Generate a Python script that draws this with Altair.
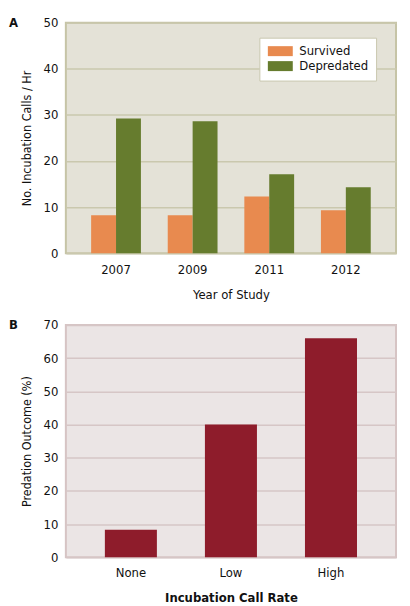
import pandas as pd
import altair as alt

years = ["2007", "2009", "2011", "2012"]
survived = [8.2, 8.2, 12.3, 9.3]
depredated = [29.2, 28.6, 17.1, 14.3]

rates = ["None", "Low", "High"]
predation = [8.3, 40.0, 66.0]

font = "Liberation Sans Narrow, DejaVu Sans Condensed, Arial Narrow, sans-serif"

df_a = pd.DataFrame({
    "year": years * 2,
    "group": ["Survived"] * 4 + ["Depredated"] * 4,
    "calls": survived + depredated,
})
df_b = pd.DataFrame({"rate": rates, "pct": predation})


def axis_y(title, grid):
    return alt.Axis(title=title, values=list(range(0, 80, 10)), grid=True, gridColor=grid,
                    gridWidth=1.5, domain=False, ticks=False, labelPadding=8,
                    labelFontSize=13, titleFontSize=12.5, titleFontWeight="normal",
                    titlePadding=10, labelColor="#111", titleColor="#111")


bars_a = alt.Chart(df_a).mark_bar().encode(
    x=alt.X("year:N", sort=years,
            scale=alt.Scale(paddingInner=0.35, paddingOuter=0.33),
            axis=alt.Axis(title="Year of Study", labelAngle=0, domain=False, ticks=False,
                          labelPadding=10, titlePadding=12, labelFontSize=13,
                          titleFontSize=13, titleFontWeight="normal",
                          labelColor="#111", titleColor="#111")),
    xOffset=alt.XOffset("group:N", sort=["Survived", "Depredated"],
                        scale=alt.Scale(paddingInner=0, paddingOuter=0)),
    y=alt.Y("calls:Q", scale=alt.Scale(domain=[0, 50], nice=False),
            axis=axis_y("No. Incubation Calls / Hr", "#cac8ae")),
    color=alt.Color("group:N", sort=["Survived", "Depredated"],
                    scale=alt.Scale(domain=["Survived", "Depredated"],
                                    range=["#e88a4f", "#667c2e"]),
                    legend=alt.Legend(title=None, orient="none", legendX=194, legendY=15,
                                      fillColor="white", strokeColor="#cac8b0",
                                      padding=7, rowPadding=1, labelFontSize=13,
                                      labelOffset=20, labelColor="#111",
                                      symbolType="M-1,-1H4V1H-1Z", symbolSize=100,
                                      symbolStrokeWidth=0, symbolOpacity=1)),
)

tag_a = alt.Chart(pd.DataFrame({"t": ["A"]})).mark_text(
    fontWeight="bold", fontSize=13, align="left", baseline="middle", font=font, color="#111"
).encode(x=alt.value(-57), y=alt.value(0), text="t:N")

panel_a = alt.layer(bars_a, tag_a).properties(
    width=331, height=231,
    view=alt.ViewBackground(fill="#e4e2d7", stroke="#c6c4a6", strokeWidth=2),
)

bars_b = alt.Chart(df_b).mark_bar(color="#8e1c2b").encode(
    x=alt.X("rate:N", sort=rates,
            scale=alt.Scale(paddingInner=0.48, paddingOuter=0.39),
            axis=alt.Axis(title="Incubation Call Rate", labelAngle=0, domain=False, ticks=False,
                          labelPadding=9, titlePadding=12, labelFontSize=13,
                          titleFontSize=13, titleFontWeight="bold",
                          labelColor="#111", titleColor="#111")),
    y=alt.Y("pct:Q", scale=alt.Scale(domain=[0, 70], nice=False),
            axis=axis_y("Predation Outcome (%)", "#d6c6c6")),
)

tag_b = alt.Chart(pd.DataFrame({"t": ["B"]})).mark_text(
    fontWeight="bold", fontSize=13, align="left", baseline="middle", font=font, color="#111"
).encode(x=alt.value(-57), y=alt.value(0), text="t:N")

panel_b = alt.layer(bars_b, tag_b).properties(
    width=331, height=233,
    view=alt.ViewBackground(fill="#ebe5e5", stroke="#d6c4c4", strokeWidth=2),
)

chart = alt.vconcat(panel_a, panel_b, spacing=16).properties(
    padding={"left": 0, "top": 7, "right": 5, "bottom": 0},
).configure(font=font).configure_view(strokeWidth=2)

chart.save("out.html", embed_options={"renderer": "svg", "actions": False})
